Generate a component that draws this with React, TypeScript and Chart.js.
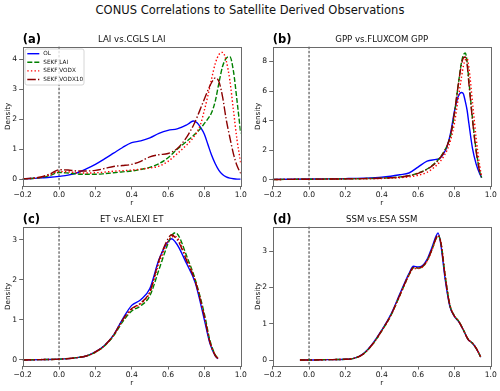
import React, { useEffect, useRef } from "react";
import { Chart, registerables } from "chart.js";

Chart.register(...registerables);

const FONT = '"DejaVu Sans", sans-serif';
const SUPTITLE = "CONUS Correlations to Satellite Derived Observations";
const SERIES_NAMES = ["OL", "SEKF LAI", "SEKF VODX", "SEKF VODX10"];
const SERIES_COLORS = ["#0000ff", "#008000", "#ff0000", "#8b0000"];
const SERIES_DASHES: number[][] = [[], [5, 2], [1.4, 2.2], [8.5, 2.2, 1.4, 2.2]];
const X_MIN = -0.2;
const X_MAX = 1.0;
const X_STEP = 0.2;

// (a) LAI vs. CGLS LAI
const R_LAI = [-0.2, -0.15, -0.1, -0.05, 0, 0.05, 0.1, 0.15, 0.2, 0.25, 0.3, 0.35, 0.4, 0.45, 0.5, 0.55, 0.6, 0.65, 0.7, 0.72, 0.74, 0.76, 0.78, 0.8, 0.82, 0.84, 0.86, 0.88, 0.9, 0.92, 0.94, 0.96, 0.98, 1.0];
const LAI_OL = [0.02, 0.03, 0.05, 0.07, 0.10, 0.14, 0.22, 0.35, 0.50, 0.68, 0.87, 1.06, 1.22, 1.28, 1.38, 1.53, 1.63, 1.68, 1.80, 1.88, 1.94, 1.88, 1.72, 1.50, 1.15, 0.80, 0.52, 0.30, 0.16, 0.08, 0.04, 0.02, 0.01, 0.01];
const LAI_SEKF_LAI = [0.02, 0.03, 0.06, 0.13, 0.23, 0.21, 0.18, 0.17, 0.17, 0.19, 0.22, 0.25, 0.28, 0.33, 0.40, 0.52, 0.72, 1.00, 1.25, 1.35, 1.46, 1.57, 1.70, 1.86, 2.02, 2.22, 2.60, 3.20, 3.75, 4.02, 4.08, 3.60, 2.60, 1.53];
const LAI_SEKF_VODX = [0.02, 0.03, 0.07, 0.15, 0.26, 0.25, 0.22, 0.21, 0.22, 0.24, 0.27, 0.29, 0.31, 0.34, 0.38, 0.44, 0.60, 0.85, 1.13, 1.25, 1.40, 1.58, 1.85, 2.30, 2.80, 3.35, 3.85, 4.15, 4.22, 3.95, 3.30, 2.30, 1.30, 0.55];
const LAI_SEKF_VODX10 = [0.02, 0.04, 0.08, 0.18, 0.32, 0.31, 0.28, 0.28, 0.30, 0.36, 0.43, 0.46, 0.50, 0.60, 0.75, 0.82, 0.86, 1.02, 1.38, 1.58, 1.80, 2.07, 2.37, 2.67, 2.97, 3.22, 3.37, 3.25, 2.75, 2.00, 1.40, 0.85, 0.45, 0.20];

// (b) GPP vs. FLUXCOM GPP
const R_GPP = [-0.2, -0.1, 0, 0.1, 0.2, 0.3, 0.4, 0.45, 0.5, 0.55, 0.6, 0.65, 0.7, 0.72, 0.74, 0.76, 0.78, 0.8, 0.82, 0.84, 0.85, 0.86, 0.87, 0.88, 0.9, 0.92, 0.94, 0.95];
const GPP_OL = [0.02, 0.03, 0.04, 0.05, 0.07, 0.10, 0.16, 0.23, 0.33, 0.45, 0.85, 1.26, 1.37, 1.45, 1.75, 2.25, 3.20, 4.60, 5.60, 5.90, 5.80, 5.30, 4.70, 3.80, 2.10, 1.05, 0.38, 0.14];
const GPP_SEKF_LAI = [0.01, 0.02, 0.03, 0.04, 0.05, 0.07, 0.10, 0.13, 0.18, 0.27, 0.45, 0.72, 1.20, 1.48, 1.85, 2.30, 3.00, 4.40, 6.30, 8.00, 8.45, 8.57, 8.00, 6.70, 4.10, 2.00, 0.55, 0.15];
const GPP_SEKF_VODX = [0.01, 0.02, 0.03, 0.04, 0.05, 0.06, 0.08, 0.10, 0.13, 0.19, 0.30, 0.50, 0.95, 1.20, 1.55, 2.00, 2.70, 3.80, 5.40, 7.00, 7.70, 8.10, 8.20, 7.60, 5.20, 2.80, 0.90, 0.25];
const GPP_SEKF_VODX10 = [0.01, 0.02, 0.03, 0.04, 0.05, 0.07, 0.10, 0.13, 0.17, 0.26, 0.42, 0.70, 1.15, 1.45, 1.80, 2.30, 3.10, 4.50, 6.30, 7.85, 8.25, 8.30, 7.80, 6.50, 4.00, 1.90, 0.50, 0.14];

// (c) ET vs. ALEXI ET
const R_ET = [-0.2, -0.1, 0, 0.1, 0.15, 0.2, 0.25, 0.3, 0.35, 0.4, 0.45, 0.5, 0.55, 0.6, 0.62, 0.64, 0.66, 0.7, 0.75, 0.8, 0.83, 0.86, 0.875];
const ET_OL = [0.00, 0.01, 0.02, 0.06, 0.10, 0.20, 0.36, 0.62, 1.02, 1.36, 1.50, 1.78, 2.50, 2.95, 3.02, 2.94, 2.80, 2.42, 1.92, 1.00, 0.42, 0.10, 0.03];
const ET_SEKF_LAI = [0.00, 0.01, 0.02, 0.06, 0.10, 0.19, 0.35, 0.60, 0.95, 1.22, 1.35, 1.60, 2.25, 2.90, 3.10, 3.17, 3.08, 2.62, 2.00, 1.15, 0.50, 0.13, 0.04];
const ET_SEKF_VODX = [0.00, 0.01, 0.02, 0.06, 0.10, 0.19, 0.35, 0.61, 0.98, 1.26, 1.40, 1.68, 2.40, 2.95, 3.06, 3.08, 2.98, 2.55, 1.98, 1.10, 0.47, 0.12, 0.04];
const ET_SEKF_VODX10 = [0.00, 0.01, 0.02, 0.06, 0.10, 0.20, 0.36, 0.62, 1.00, 1.28, 1.42, 1.70, 2.48, 3.02, 3.12, 3.05, 2.93, 2.50, 1.95, 1.08, 0.45, 0.11, 0.03];

// (d) SSM vs. ESA SSM
const R_SSM = [-0.05, 0, 0.1, 0.2, 0.25, 0.3, 0.35, 0.4, 0.45, 0.5, 0.55, 0.575, 0.6, 0.625, 0.65, 0.675, 0.7, 0.71, 0.725, 0.75, 0.775, 0.8, 0.825, 0.85, 0.875, 0.9, 0.925, 0.945];
const SSM_OL = [0.00, 0.00, 0.01, 0.02, 0.05, 0.18, 0.45, 0.82, 1.25, 1.82, 2.38, 2.58, 2.56, 2.60, 2.77, 3.08, 3.42, 3.50, 3.20, 2.20, 1.48, 1.20, 1.05, 0.82, 0.57, 0.46, 0.28, 0.08];
const SSM_SEKF_LAI = [0.00, 0.00, 0.01, 0.02, 0.05, 0.17, 0.43, 0.80, 1.22, 1.78, 2.34, 2.54, 2.53, 2.57, 2.73, 3.02, 3.35, 3.42, 3.26, 2.30, 1.52, 1.22, 1.06, 0.83, 0.58, 0.46, 0.28, 0.08];
const SSM_SEKF_VODX = [0.00, 0.00, 0.01, 0.02, 0.05, 0.17, 0.43, 0.80, 1.22, 1.78, 2.33, 2.52, 2.52, 2.56, 2.72, 3.00, 3.34, 3.41, 3.27, 2.32, 1.53, 1.22, 1.06, 0.83, 0.58, 0.46, 0.28, 0.08];
const SSM_SEKF_VODX10 = [0.00, 0.00, 0.01, 0.02, 0.05, 0.17, 0.44, 0.81, 1.23, 1.79, 2.35, 2.55, 2.54, 2.58, 2.74, 3.03, 3.37, 3.44, 3.24, 2.26, 1.50, 1.21, 1.05, 0.82, 0.57, 0.46, 0.28, 0.08];

type PanelSpec = {
  left: number;
  top: number;
  label: string;
  title: string;
  r: number[];
  series: number[][];
  yMin: number;
  yMax: number;
  yStep: number;
  legend: boolean;
};

const PANELS: PanelSpec[] = [
  { left: 0, top: 30, label: "(a)", title: "LAI vs.CGLS LAI", r: R_LAI, series: [LAI_OL, LAI_SEKF_LAI, LAI_SEKF_VODX, LAI_SEKF_VODX10], yMin: -0.22, yMax: 4.41, yStep: 1, legend: true },
  { left: 250, top: 30, label: "(b)", title: "GPP vs.FLUXCOM GPP", r: R_GPP, series: [GPP_OL, GPP_SEKF_LAI, GPP_SEKF_VODX, GPP_SEKF_VODX10], yMin: -0.43, yMax: 9.0, yStep: 2, legend: false },
  { left: 0, top: 210, label: "(c)", title: "ET vs.ALEXI ET", r: R_ET, series: [ET_OL, ET_SEKF_LAI, ET_SEKF_VODX, ET_SEKF_VODX10], yMin: -0.15, yMax: 3.32, yStep: 1, legend: false },
  { left: 250, top: 210, label: "(d)", title: "SSM vs.ESA SSM", r: R_SSM, series: [SSM_OL, SSM_SEKF_LAI, SSM_SEKF_VODX, SSM_SEKF_VODX10], yMin: -0.165, yMax: 3.67, yStep: 1, legend: false },
];

const CANVAS_W = 250;
const CANVAS_H = 180;
const TICK_FONT = { family: FONT, size: 7.6 };
const LABEL_FONT = { family: FONT, size: 7.2 };
const AXIS_COLOR = "#6a6a6a";
const TEXT_COLOR = "#111";

function fmtX(v: number) {
  if (Math.abs(v) < 1e-9) return "0.0";
  return v.toFixed(1).replace("-", "\u2212");
}

function Panel({ spec }: { spec: PanelSpec }) {
  const ref = useRef<HTMLCanvasElement>(null);
  useEffect(() => {
    const decor = {
      id: "decor",
      beforeDatasetsDraw(chart: any) {
        const { ctx, chartArea, scales } = chart;
        const x0 = scales.x.getPixelForValue(0);
        ctx.save();
        ctx.strokeStyle = "#000";
        ctx.lineWidth = 0.8;
        ctx.setLineDash([2.5, 1.6]);
        ctx.beginPath();
        ctx.moveTo(x0, chartArea.top);
        ctx.lineTo(x0, chartArea.bottom);
        ctx.stroke();
        ctx.restore();
      },
      afterDraw(chart: any) {
        const { ctx, chartArea } = chart;
        const { left, right, top, bottom } = chartArea;
        ctx.save();
        ctx.strokeStyle = AXIS_COLOR;
        ctx.lineWidth = 1;
        ctx.setLineDash([]);
        ctx.strokeRect(Math.round(left) + 0.5, Math.round(top) + 0.5, Math.round(right) - Math.round(left), Math.round(bottom) - Math.round(top));
        ctx.fillStyle = "#000";
        ctx.textBaseline = "middle";
        ctx.textAlign = "left";
        ctx.font = `bold 11.5px ${FONT}`;
        ctx.fillText(spec.label, left, top - 7);
        ctx.fillStyle = TEXT_COLOR;
        ctx.textAlign = "center";
        ctx.font = `8.6px ${FONT}`;
        ctx.fillText(spec.title, (left + right) / 2, top - 7);
        if (spec.legend) {
          const bx = left + 2.3;
          const by = top + 2.3;
          const bw = 59;
          const bh = 36;
          ctx.beginPath();
          if ((ctx as any).roundRect) (ctx as any).roundRect(bx, by, bw, bh, 2);
          else ctx.rect(bx, by, bw, bh);
          ctx.fillStyle = "rgba(255,255,255,0.8)";
          ctx.fill();
          ctx.strokeStyle = "#cccccc";
          ctx.lineWidth = 0.8;
          ctx.stroke();
          ctx.font = `5.7px ${FONT}`;
          ctx.textAlign = "left";
          ctx.textBaseline = "middle";
          SERIES_NAMES.forEach((name, i) => {
            const yy = top + 7 + i * 8.6;
            ctx.strokeStyle = SERIES_COLORS[i];
            ctx.lineWidth = 1.4;
            ctx.setLineDash(SERIES_DASHES[i]);
            ctx.beginPath();
            ctx.moveTo(left + 4.6, yy);
            ctx.lineTo(left + 16.6, yy);
            ctx.stroke();
            ctx.setLineDash([]);
            ctx.fillStyle = TEXT_COLOR;
            ctx.fillText(name, left + 20.6, yy);
          });
        }
        ctx.restore();
      },
    };

    const chart = new Chart(ref.current as HTMLCanvasElement, {
      type: "line",
      data: {
        datasets: spec.series.map((vals, i) => ({
          label: SERIES_NAMES[i],
          data: spec.r.map((x, j) => ({ x, y: vals[j] })),
          borderColor: SERIES_COLORS[i],
          borderDash: SERIES_DASHES[i],
          borderWidth: 1.4,
          pointRadius: 0,
          fill: false,
          cubicInterpolationMode: "monotone" as const,
          order: 4 - i,
        })),
      },
      options: {
        responsive: false,
        animation: false,
        devicePixelRatio: 1,
        layout: { padding: { top: 16.7, right: 9.3, left: 0, bottom: 0 } },
        plugins: { legend: { display: false }, tooltip: { enabled: false }, title: { display: false } },
        scales: {
          x: {
            type: "linear",
            min: X_MIN,
            max: X_MAX,
            afterFit: (s: any) => {
              s.height = 24;
            },
            ticks: {
              stepSize: X_STEP,
              includeBounds: false,
              autoSkip: false,
              maxRotation: 0,
              padding: 1,
              font: TICK_FONT,
              color: TEXT_COLOR,
              callback: (v: any) => fmtX(Number(v)),
            },
            grid: { drawOnChartArea: false, drawTicks: true, tickLength: 3.5, tickColor: AXIS_COLOR, tickWidth: 1 },
            border: { display: false },
            title: { display: true, text: "r", color: TEXT_COLOR, font: LABEL_FONT, padding: { top: 0, bottom: 3 } },
          },
          y: {
            type: "linear",
            min: spec.yMin,
            max: spec.yMax,
            afterFit: (s: any) => {
              s.width = 22.7;
            },
            ticks: {
              stepSize: spec.yStep,
              includeBounds: false,
              autoSkip: false,
              padding: 2,
              font: TICK_FONT,
              color: TEXT_COLOR,
              callback: (v: any) => String(Math.round(Number(v))),
            },
            grid: { drawOnChartArea: false, drawTicks: true, tickLength: 3.5, tickColor: AXIS_COLOR, tickWidth: 1 },
            border: { display: false },
            title: { display: true, text: "Density", color: TEXT_COLOR, font: LABEL_FONT, padding: { top: 4, bottom: 0 } },
          },
        },
      },
      plugins: [decor],
    } as any);
    return () => chart.destroy();
  }, []);
  return (
    <canvas
      ref={ref}
      width={CANVAS_W}
      height={CANVAS_H}
      style={{ position: "absolute", left: spec.left, top: spec.top, width: CANVAS_W, height: CANVAS_H }}
    />
  );
}

export default function App() {
  return (
    <div style={{ position: "fixed", left: 0, top: 0, width: 500, height: 391, background: "#fff", overflow: "hidden" }}>
      <div
        style={{
          position: "absolute",
          left: 0,
          top: 2.5,
          width: 500,
          textAlign: "center",
          fontFamily: FONT,
          fontSize: 11.5,
          lineHeight: "14px",
          color: TEXT_COLOR,
        }}
      >
        {SUPTITLE}
      </div>
      {PANELS.map((p) => (
        <Panel key={p.label} spec={p} />
      ))}
    </div>
  );
}
